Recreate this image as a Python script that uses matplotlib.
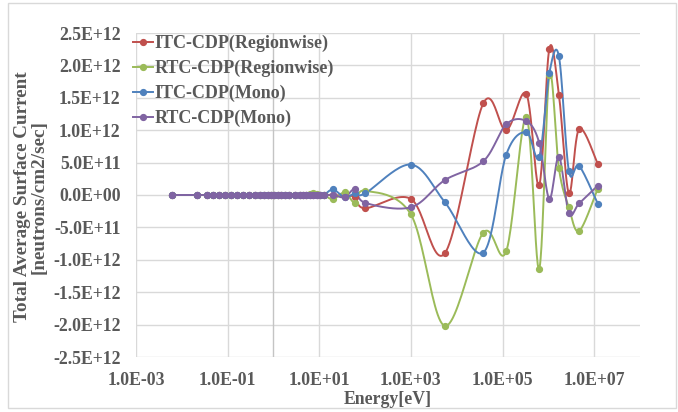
import matplotlib
matplotlib.use("Agg")
import matplotlib.pyplot as plt
import numpy as np
from matplotlib.lines import Line2D
from matplotlib.patches import Rectangle
from matplotlib.ticker import FuncFormatter, FixedLocator

# energy group points [eV]
energy = [6.2e-3, 2.1e-2, 3.5e-2, 4.8e-2, 6.5e-2, 8.9e-2, 0.12, 0.16, 0.22, 0.30,
          0.40, 0.50, 0.63, 0.76, 0.89, 1.05, 1.23, 1.48, 1.78, 2.19,
          2.95, 3.72, 4.37, 5.25, 6.17, 7.24, 8.71, 10.2, 12.6,
          20, 36, 60, 100, 1e3, 5.5e3, 3.8e4, 1.2e5, 3.3e5, 6.3e5,
          1.05e6, 1.7e6, 2.8e6, 4.7e6, 1.2e7]

# currents in units of 1E+11 neutrons/cm2/sec
low_zero = [0.0] * 29
itc_region = low_zero + [0.0, -0.15, -0.3, -2.05, -0.6, -9.0, 14.15, 10.0, 15.6, 1.5,
                         22.6, 15.5, 0.25, 10.2, 4.8]
rtc_region = ([0.0] * 24 + [0.1, 0.25, 0.1, 0.0, 0.0]
              + [-0.65, 0.4, -1.2, 0.65, -3.0, -20.2, -5.8, -8.7, 12.0, -11.4,
                 18.5, 4.1, -1.9, -5.55, 1.0])
itc_mono = low_zero + [0.85, -0.35, 0.25, 0.25, 4.7, -1.1, -8.9, 6.2, 9.7, 5.9,
                       18.8, 21.4, 3.75, 4.5, -1.35]
rtc_mono = low_zero + [0.0, -0.35, 0.9, -1.2, -1.9, 2.3, 5.2, 10.9, 11.4, 8.1,
                       -0.6, 5.9, -2.8, -1.3, 1.45]
SCALE = 1e11

names = ["ITC-CDP(Regionwise)", "RTC-CDP(Regionwise)", "ITC-CDP(Mono)", "RTC-CDP(Mono)"]
series = [itc_region, rtc_region, itc_mono, rtc_mono]
colors = ["#C0504D", "#9BBB59", "#4F81BD", "#8064A2"]

x_ticks = [1e-3, 1e-1, 1e1, 1e3, 1e5, 1e7]
y_ticks = np.arange(-2.5e12, 2.6e12, 0.5e12)


def smooth(xs, ys, n=25):
    """Excel-like smoothed line: Bezier segments, tangents from neighbours."""
    pts = np.column_stack([xs, ys])
    out = [pts[0]]
    t = np.linspace(0, 1, n)[1:, None]
    for i in range(len(pts) - 1):
        p0 = pts[i - 1] if i > 0 else pts[i]
        p1 = pts[i]
        p2 = pts[i + 1]
        p3 = pts[i + 2] if i + 2 < len(pts) else pts[i + 1]
        c1 = p1 + (p2 - p0) / 6
        c2 = p2 - (p3 - p1) / 6
        seg = (1 - t) ** 3 * p1 + 3 * (1 - t) ** 2 * t * c1 + 3 * (1 - t) * t ** 2 * c2 + t ** 3 * p2
        out.extend(seg)
    return np.array(out)


FONT = "Liberation Serif"
FS = 12.8
GREY = "#595959"

fig = plt.figure(figsize=(6.78, 4.12), dpi=100)
ax = fig.add_axes([136 / 678, 1 - 357 / 412, 504 / 678, 324 / 412])

logx = np.log10(energy)
for vals, c in zip(series, colors):
    v = np.array(vals) * SCALE
    curve = smooth(logx, v)
    ax.plot(10 ** curve[:, 0], curve[:, 1], color=c, lw=1.4, zorder=3)
    ax.plot(energy, v, "o", color=c, ms=4.2, zorder=4)

ax.set_xscale("log")
ax.set_xlim(1e-3, 1e8)
ax.set_ylim(-2.5e12, 2.5e12)
ax.xaxis.set_major_locator(FixedLocator(x_ticks))
ax.xaxis.set_minor_locator(FixedLocator([]))
ax.set_yticks(y_ticks)
ax.xaxis.set_major_formatter(FuncFormatter(lambda v, p: f"{v:.1E}"))
ax.yaxis.set_major_formatter(FuncFormatter(lambda v, p: f"{v:.1E}"))
ax.grid(True, color="#d9d9d9", lw=1)
ax.axvline(1, color="#c4c4c4", lw=1, zorder=1)
ax.set_axisbelow(True)
for s in ax.spines.values():
    s.set_visible(False)
ax.tick_params(length=0, labelsize=FS, labelcolor=GREY, pad=11)
for lab in ax.get_xticklabels() + ax.get_yticklabels():
    lab.set_fontfamily(FONT)
    lab.set_fontweight("bold")

fig.text(388 / 678, 1 - 400 / 412, "Energy[eV]", ha="center", va="center",
         fontsize=FS, fontweight="bold", family=FONT, color=GREY)
fig.text(31 / 678, 1 - 197 / 412, "Total Average Surface Current\n[neutrons/cm2/sec]",
         ha="center", va="center", rotation=90, multialignment="center", linespacing=0.95,
         fontsize=13.8, fontweight="bold", family=FONT, color=GREY)

handles = [Line2D([], [], color=c, lw=1.4, marker="o", ms=4.2) for c in colors]
leg = ax.legend(handles, names, loc="upper left", bbox_to_anchor=(133 / 678, 1 - 35 / 412),
                bbox_transform=fig.transFigure, frameon=False, borderpad=0, borderaxespad=0,
                handlelength=1.1, handletextpad=0.1, labelspacing=0.42,
                prop={"family": FONT, "weight": "bold", "size": 13})
for txt in leg.get_texts():
    txt.set_color(GREY)

fig.patches.append(Rectangle((8 / 678, 4 / 412), 668 / 678, 405 / 412, transform=fig.transFigure,
                             fill=False, edgecolor="#d9d9d9", lw=1))

fig.savefig("out.png", dpi=100)
